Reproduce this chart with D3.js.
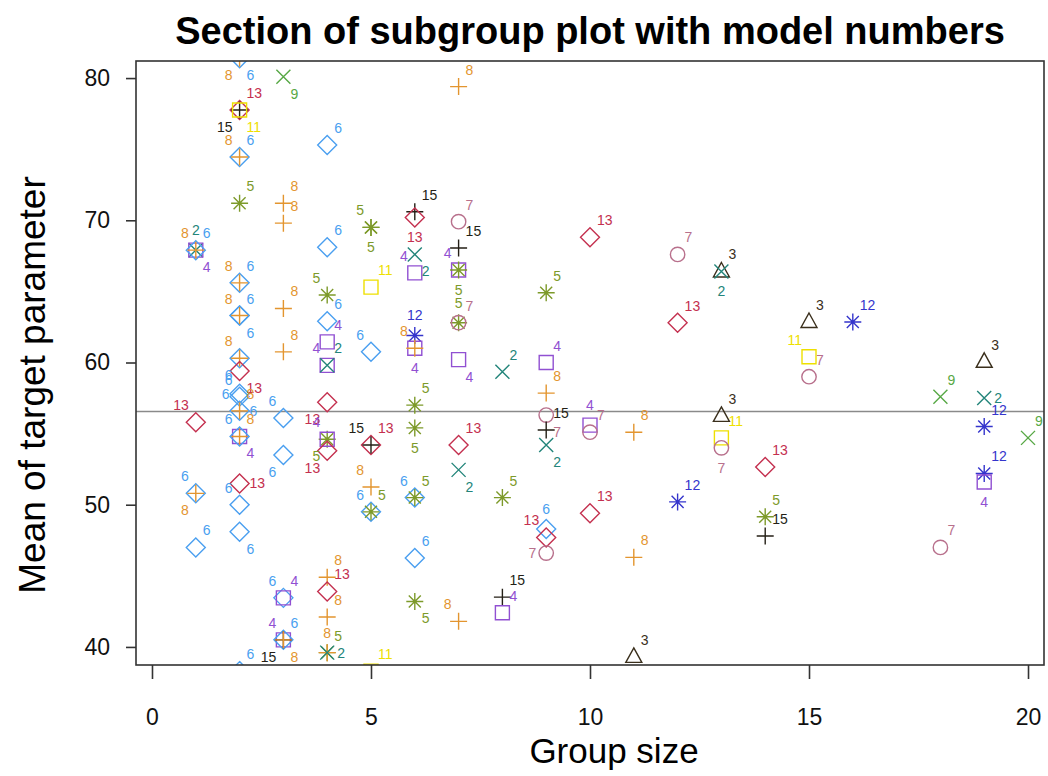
<!DOCTYPE html>
<html>
<head>
<meta charset="utf-8">
<script src="https://cdn.jsdelivr.net/npm/d3@7"></script>
<style>
  body { margin: 0; background: #fff; }
  text { font-family: "Liberation Sans", Arial, sans-serif; }
</style>
</head>
<body>
<div id="chart"></div>
<script>
// Models: symbol and colour per model number
const modelIds = [2, 3, 4, 5, 6, 7, 8, 9, 11, 12, 13, 15];
const modelShapes = ['times', 'triangle', 'square', 'asterisk', 'diamond', 'circle',
  'plus', 'times', 'square', 'asterisk', 'diamond', 'plus'];
const modelColors = ['#23857a', '#3a2f1c', '#9150d2', '#7d9a2a', '#4a9ff0', '#b8708c',
  '#e3952f', '#57a845', '#eee000', '#3535cc', '#c4304f', '#241f16'];

const xTicks = [0, 5, 10, 15, 20];
const yTicks = [40, 50, 60, 70, 80];
const xLimits = [-0.365, 20.365];
const yLimits = [38.73, 81.2];
const referenceMean = 56.55;

// [group size, mean, model, label side]
const points = [
  [1, 67.9, 2, 'n'], [1, 67.9, 4, 'se'], [1, 67.9, 6, 'ne'], [1, 67.9, 8, 'nw'],
  [1, 55.8, 13, 'nw'],
  [1, 50.8, 6, 'nw'], [1, 50.8, 8, 'sw'],
  [1, 47.0, 6, 'ne'],

  [2, 81.4, 6, 'se'], [2, 81.4, 8, 'sw'],
  [2, 77.75, 13, 'ne'], [2, 77.75, 15, 'sw'], [2, 77.75, 11, 'se'],
  [2, 74.45, 6, 'ne'], [2, 74.45, 8, 'nw'],
  [2, 71.2, 5, 'ne'],
  [2, 65.6, 6, 'ne'], [2, 65.6, 8, 'nw'],
  [2, 63.3, 6, 'ne'], [2, 63.3, 6, 'se'], [2, 63.3, 8, 'nw'],
  [2, 60.3, 6, 'sw'], [2, 60.3, 8, 'nw'],
  [2, 59.4, 13, 'se'],
  [2, 57.8, 6, 'w'], [2, 57.6, 6, 'nw'],
  [2, 56.6, 6, 'e'], [2, 56.6, 8, 'ne'],
  [2, 54.8, 4, 'se'], [2, 54.8, 8, 'ne'], [2, 54.8, 6, 'nw'],
  [2, 51.5, 13, 'e'],
  [2, 50.0, 6, 'nw'],
  [2, 48.1, 6, 'se'],
  [2, 38.3, 6, 'ne'],

  [3, 80.1, 9, 'se'],
  [3, 71.2, 8, 'ne'], [3, 69.8, 8, 'ne'],
  [3, 63.8, 8, 'ne'], [3, 60.75, 8, 'ne'],
  [3, 56.1, 6, 'nw'],
  [3, 53.5, 6, 'sw'],
  [3, 43.45, 6, 'nw'], [3, 43.45, 4, 'ne'],
  [3, 40.5, 4, 'nw'], [3, 40.5, 6, 'ne'], [3, 40.5, 15, 'sw'], [3, 40.5, 8, 'se'],

  [4, 75.3, 6, 'ne'],
  [4, 68.1, 6, 'ne'],
  [4, 64.75, 5, 'nw'],
  [4, 62.9, 6, 'ne'],
  [4, 61.45, 4, 'ne'],
  [4, 59.8, 4, 'nw'], [4, 59.8, 2, 'ne'],
  [4, 57.2, 13, 'sw'],
  [4, 54.6, 5, 'sw'], [4, 54.6, 4, 'nw'],
  [4, 53.8, 13, 'sw'],
  [4, 44.9, 8, 'ne'], [4, 43.9, 13, 'ne'],
  [4, 42.1, 8, 'ne'],
  [4, 39.6, 5, 'ne'], [4, 39.6, 8, 'n'], [4, 39.6, 2, 'e'],

  [5, 69.5, 5, 'nw'], [5, 69.5, 5, 's'],
  [5, 65.3, 11, 'ne'],
  [5, 60.75, 6, 'nw'],
  [5, 54.2, 13, 'ne'], [5, 54.2, 15, 'nw'],
  [5, 51.25, 8, 'nw'],
  [5, 49.5, 6, 'nw'], [5, 49.5, 5, 'ne'],
  [5, 38.3, 11, 'ne'],

  [6, 70.6, 15, 'ne'], [6, 70.2, 13, 's'],
  [6, 67.6, 2, 'se'],
  [6, 66.3, 4, 'nw'],
  [6, 61.9, 12, 'n'],
  [6, 61.0, 4, 's'], [6, 61.0, 8, 'nw'],
  [6, 57.0, 5, 'ne'],
  [6, 55.4, 5, 's'],
  [6, 50.5, 6, 'nw'], [6, 50.5, 5, 'ne'],
  [6, 46.25, 6, 'ne'],
  [6, 43.2, 5, 'se'],

  [7, 79.4, 8, 'ne'],
  [7, 69.9, 7, 'ne'],
  [7, 68.05, 15, 'ne'],
  [7, 66.5, 4, 'nw'], [7, 66.5, 5, 's'],
  [7, 62.8, 5, 'n'], [7, 62.8, 7, 'ne'],
  [7, 60.2, 4, 'se'],
  [7, 54.2, 13, 'ne'],
  [7, 52.45, 2, 'se'],
  [7, 41.8, 8, 'nw'],

  [8, 59.35, 2, 'ne'],
  [8, 50.5, 5, 'ne'],
  [8, 43.5, 15, 'ne'],
  [8, 42.4, 4, 'ne'],

  [9, 64.9, 5, 'ne'],
  [9, 60.0, 4, 'ne'],
  [9, 57.85, 8, 'ne'],
  [9, 56.3, 7, 'se'], [9, 55.25, 15, 'ne'],
  [9, 54.2, 2, 'se'],
  [9, 48.3, 6, 'n'], [9, 47.7, 13, 'nw'], [9, 46.6, 7, 'w'],

  [10, 68.8, 13, 'ne'],
  [10, 55.6, 4, 'n'], [10, 55.1, 7, 'ne'],
  [10, 49.4, 13, 'ne'],

  [11, 55.1, 8, 'ne'],
  [11, 46.3, 8, 'ne'],
  [11, 39.3, 3, 'ne'],

  [12, 67.6, 7, 'ne'],
  [12, 62.8, 13, 'ne'],
  [12, 50.2, 12, 'ne'],

  [13, 66.4, 3, 'ne'], [13, 66.4, 2, 's'],
  [13, 56.25, 3, 'ne'],
  [13, 54.7, 11, 'ne'],
  [13, 54.0, 7, 's'],

  [14, 52.65, 13, 'ne'],
  [14, 49.15, 5, 'ne'],
  [14, 47.8, 15, 'ne'],

  [15, 62.85, 3, 'ne'],
  [15, 60.4, 11, 'nw'],
  [15, 59.0, 7, 'ne'],

  [16, 62.85, 12, 'ne'],

  [18, 57.6, 9, 'ne'],
  [18, 47.0, 7, 'ne'],

  [19, 60.05, 3, 'ne'],
  [19, 57.5, 2, 'e'],
  [19, 55.5, 12, 'ne'],
  [19, 52.2, 12, 'ne'],
  [19, 51.6, 4, 's'],

  [20, 54.7, 9, 'ne'],
];

const width = 1048;
const height = 776;
const box = { left: 136, right: 1044, top: 61, bottom: 665 };

const x = d3.scaleLinear().domain(xLimits).range([box.left, box.right]);
const y = d3.scaleLinear().domain(yLimits).range([box.bottom, box.top]);

const modelIndex = (m) => modelIds.indexOf(m);
const colorOf = (m) => modelColors[modelIndex(m)];
const shapeOf = (m) => modelShapes[modelIndex(m)];

// R-like point symbols as stroke paths
const symbolPath = (shape) => {
  const p = d3.path();
  if (shape === 'circle') {
    p.moveTo(7.2, 0);
    p.arc(0, 0, 7.2, 0, 2 * Math.PI);
  } else if (shape === 'square') {
    p.rect(-7, -7, 14, 14);
  } else if (shape === 'diamond') {
    p.moveTo(0, -9.5); p.lineTo(9.5, 0); p.lineTo(0, 9.5); p.lineTo(-9.5, 0); p.closePath();
  } else if (shape === 'triangle') {
    p.moveTo(0, -9); p.lineTo(8, 5.5); p.lineTo(-8, 5.5); p.closePath();
  } else if (shape === 'plus') {
    p.moveTo(-8.5, 0); p.lineTo(8.5, 0); p.moveTo(0, -8.5); p.lineTo(0, 8.5);
  } else if (shape === 'times') {
    p.moveTo(-7, -7); p.lineTo(7, 7); p.moveTo(-7, 7); p.lineTo(7, -7);
  } else if (shape === 'asterisk') {
    const r = 8.5, d = r * Math.SQRT1_2;
    p.moveTo(-r, 0); p.lineTo(r, 0); p.moveTo(0, -r); p.lineTo(0, r);
    p.moveTo(-d, -d); p.lineTo(d, d); p.moveTo(-d, d); p.lineTo(d, -d);
  }
  return p.toString();
};

const labelOffsets = {
  ne: [7, -17, 'start'], nw: [-7, -17, 'end'],
  se: [7, 17, 'start'], sw: [-7, 17, 'end'],
  n: [0, -20, 'middle'], s: [0, 20, 'middle'],
  e: [10, 0, 'start'], w: [-10, 0, 'end'],
};

const svg = d3.select('#chart')
  .append('svg')
  .attr('width', width)
  .attr('height', height);

svg.append('defs')
  .append('clipPath')
  .attr('id', 'plot-clip')
  .append('rect')
  .attr('x', box.left)
  .attr('y', box.top)
  .attr('width', box.right - box.left)
  .attr('height', box.bottom - box.top);

// Title
svg.append('text')
  .attr('x', (box.left + box.right) / 2)
  .attr('y', 44)
  .attr('text-anchor', 'middle')
  .style('font-size', '38px')
  .style('font-weight', 'bold')
  .text('Section of subgroup plot with model numbers');

const plot = svg.append('g').attr('clip-path', 'url(#plot-clip)');

// Reference line at overall mean
plot.append('line')
  .attr('x1', box.left)
  .attr('x2', box.right)
  .attr('y1', y(referenceMean))
  .attr('y2', y(referenceMean))
  .attr('stroke', '#8a8a8a')
  .attr('stroke-width', 1.6);

// Symbols
plot.selectAll('path.point')
  .data(points)
  .enter()
  .append('path')
  .attr('class', 'point')
  .attr('transform', (d) => `translate(${x(d[0])},${y(d[1])})`)
  .attr('d', (d) => symbolPath(shapeOf(d[2])))
  .attr('fill', 'none')
  .attr('stroke', (d) => colorOf(d[2]))
  .attr('stroke-width', 1.4);

// Model number labels
plot.selectAll('text.model')
  .data(points)
  .enter()
  .append('text')
  .attr('class', 'model')
  .attr('x', (d) => x(d[0]) + labelOffsets[d[3]][0])
  .attr('y', (d) => y(d[1]) + labelOffsets[d[3]][1])
  .attr('text-anchor', (d) => labelOffsets[d[3]][2])
  .attr('dominant-baseline', 'central')
  .style('font-size', '14px')
  .attr('fill', (d) => colorOf(d[2]))
  .text((d) => d[2]);

// Frame
svg.append('rect')
  .attr('x', box.left)
  .attr('y', box.top)
  .attr('width', box.right - box.left)
  .attr('height', box.bottom - box.top)
  .attr('fill', 'none')
  .attr('stroke', '#333')
  .attr('stroke-width', 1.6);

// Axes
const xAxis = svg.append('g')
  .attr('transform', `translate(0,${box.bottom})`)
  .call(d3.axisBottom(x).tickValues(xTicks).tickSize(14).tickPadding(30));
const yAxis = svg.append('g')
  .attr('transform', `translate(${box.left},0)`)
  .call(d3.axisLeft(y).tickValues(yTicks).tickSize(10).tickPadding(16));

[xAxis, yAxis].forEach((ax) => {
  ax.select('.domain').remove();
  ax.selectAll('line').attr('stroke', '#333').attr('stroke-width', 1.6);
  ax.selectAll('text')
    .style('font-size', '23px')
    .style('font-family', '"Liberation Sans", Arial, sans-serif')
    .attr('fill', '#111');
});

// Axis titles
svg.append('text')
  .attr('x', 614)
  .attr('y', 763)
  .attr('text-anchor', 'middle')
  .style('font-size', '35px')
  .text('Group size');

svg.append('text')
  .attr('transform', 'translate(45,385) rotate(-90)')
  .attr('text-anchor', 'middle')
  .style('font-size', '37px')
  .text('Mean of target parameter');
</script>
</body>
</html>
